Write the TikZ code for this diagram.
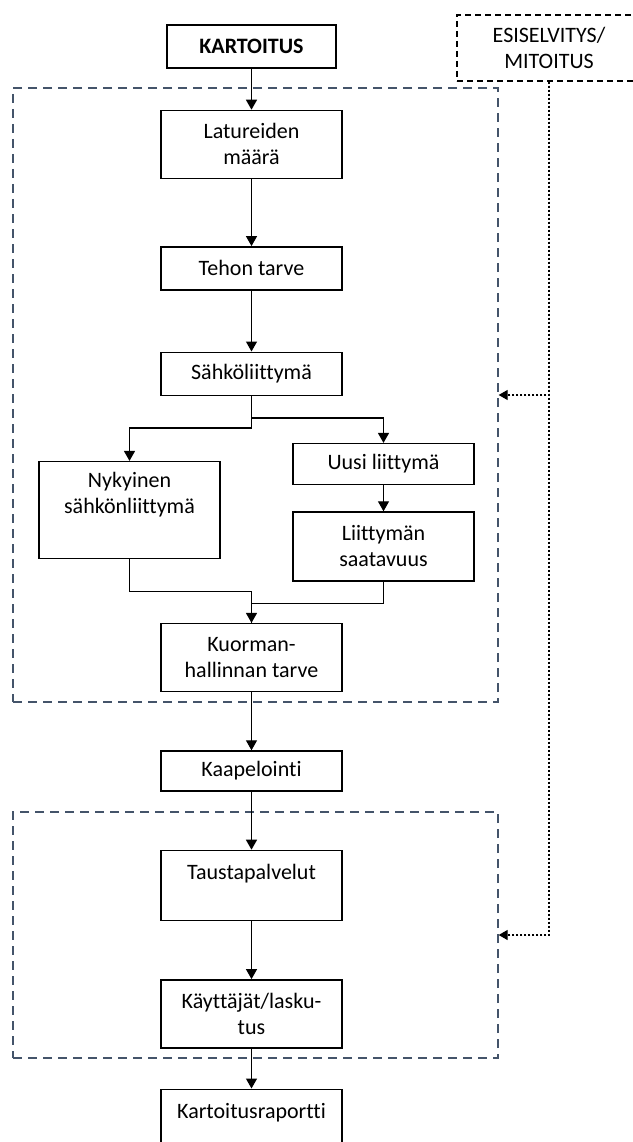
\documentclass[tikz,border=0pt]{standalone}
\usepackage{fontspec}
\setmainfont{Carlito}[Ligatures=NoCommon]
\usetikzlibrary{arrows.meta, positioning}

\definecolor{phaseblue}{HTML}{44546A}

\tikzstyle{process} = [rectangle, minimum width=181pt, minimum height=43pt, text centered, align=center, draw=black, line width=1.4pt, inner sep=4pt, font=\fontsize{22}{26}\selectfont]
\tikzstyle{arrow} = [line width=1.3pt, -{Triangle[width=11pt, length=10pt]}]
\tikzset{
    tallbox/.style={
        process, text height=20pt, inner ysep=9pt
    },
    phase/.style={
        rectangle, draw=phaseblue, line width=1.3pt, dash pattern=on 9pt off 6pt
    },
    prestudy/.style={
        process, draw=black, dash pattern=on 6pt off 4pt
    },
    feedback/.style={
        line width=1.2pt, dash pattern=on 2.5pt off 1.5pt, -{Triangle[width=10pt, length=9pt]}
    }
}

\begin{document}
\begin{tikzpicture}[x=1pt, y=1pt]

    \useasboundingbox (0,0) rectangle (632,-1142);

    % Phase groups
    \node[phase, minimum width=485pt, minimum height=614pt] (mapping) at (255.5,-395) {};
    \node[phase, minimum width=485pt, minimum height=246pt] (service) at (255.5,-935) {};

    % Main column
    \node[process, minimum width=169pt, font=\fontsize{22}{26}\selectfont\bfseries] (kartoitus) at (251.5,-46.5) {KARTOITUS};
    \node[process, minimum height=68pt, below=41pt of kartoitus] (latureet) {Latureiden\\määrä};
    \node[process, below=67pt of latureet] (teho) {Tehon tarve};
    \node[process, below=61pt of teho] (liittyma) {Sähköliittymä};

    % Branches
    \node[tallbox, text height=43pt, text depth=36pt, below=65pt of liittyma, xshift=-122pt] (nykyinen) {Nykyinen\\sähkönliittymä};
    \node[process, minimum height=41pt, below=47pt of liittyma, xshift=132pt] (uusi) {Uusi liittymä};
    \node[process, minimum height=69pt, below=26pt of uusi] (saatavuus) {Liittymän\\saatavuus};

    \node[process, minimum height=68pt, below=227pt of liittyma] (kuorma) {Kuorman-\\hallinnan tarve};
    \node[process, minimum height=40pt, below=58pt of kuorma] (kaapelointi) {Kaapelointi};
    \node[tallbox, text depth=32pt, below=58pt of kaapelointi] (tausta) {Taustapalvelut};
    \node[process, minimum height=68pt, below=58pt of tausta] (kayttajat) {Käyttäjät/lasku-\\tus};
    \node[tallbox, text depth=25pt, below=40pt of kayttajat] (raportti) {Kartoitusraportti};

    % Pre-study
    \node[prestudy, minimum width=184pt, minimum height=66pt] (esiselvitys) at (549,-48) {ESISELVITYS/\\MITOITUS};

    % Relationships
    \draw[arrow] (kartoitus) -- (latureet);
    \draw[arrow] (latureet) -- (teho);
    \draw[arrow] (teho) -- (liittyma);
    \draw[arrow] (liittyma.south) -- ++(0,-32) -| (nykyinen.north);
    \draw[arrow] (liittyma.south) -- ++(0,-22) -| (uusi.north);
    \draw[arrow] (uusi) -- (saatavuus);
    \draw[line width=1.3pt] (saatavuus.south) -- ++(0,-22) -| (kuorma.north);
    \draw[arrow] (nykyinen.south) -- ++(0,-32) -| (kuorma.north);
    \draw[arrow] (kuorma) -- (kaapelointi);
    \draw[arrow] (kaapelointi) -- (tausta);
    \draw[arrow] (tausta) -- (kayttajat);
    \draw[arrow] (kayttajat) -- (raportti);
    \draw[feedback] (esiselvitys.south) |- (mapping.east);
    \draw[feedback] (esiselvitys.south) |- (service.east);

\end{tikzpicture}
\end{document}
